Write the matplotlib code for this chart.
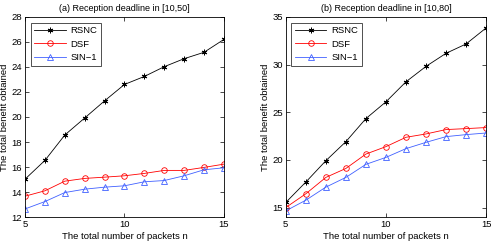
import matplotlib
matplotlib.use("Agg")
import matplotlib.pyplot as plt

n = [5, 6, 7, 8, 9, 10, 11, 12, 13, 14, 15]

# (a) deadline in [10,50]
rsnc_a = [15.03, 16.53, 18.56, 19.92, 21.29, 22.6, 23.24, 24.02, 24.66, 25.17, 26.2]
dsf_a = [13.67, 14.10, 14.87, 15.09, 15.19, 15.30, 15.49, 15.73, 15.73, 15.97, 16.23]
sin_a = [12.65, 13.24, 13.96, 14.23, 14.39, 14.50, 14.82, 14.92, 15.30, 15.78, 15.94]

# (b) deadline in [10,80]
rsnc_b = [15.53, 17.67, 19.91, 21.91, 24.33, 26.09, 28.19, 29.81, 31.18, 32.16, 33.84]
dsf_b = [15.0, 16.44, 18.16, 19.1, 20.61, 21.39, 22.37, 22.72, 23.18, 23.28, 23.39]
sin_b = [14.65, 15.77, 17.14, 18.16, 19.53, 20.26, 21.18, 21.84, 22.44, 22.65, 22.82]

plt.rcParams["font.family"] = ["Liberation Sans", "DejaVu Sans"]
plt.rcParams["font.size"] = 6.5

fig = plt.figure(figsize=(4.91, 2.45), dpi=100)
ax1 = fig.add_axes([0.051, 0.114, 0.405, 0.817])
ax2 = fig.add_axes([0.582, 0.114, 0.408, 0.817])


def draw(ax, r, d, s, title, ylim, yticks):
    ax.plot(n, r, color="black", marker=(6, 2, 0), markersize=4, mew=0.7, lw=0.6, label="RSNC")
    ax.plot(n, d, color="red", marker="o", markersize=4, mfc="none", mew=0.6, lw=0.6, label="DSF")
    ax.plot(n, s, color="#4060ff", marker="^", markersize=4, mfc="none", mew=0.6, lw=0.6, label="SIN\u22121")
    ax.set_xlim(5, 15)
    ax.set_ylim(*ylim)
    ax.set_xticks([5, 10, 15])
    ax.set_yticks(yticks)
    ax.tick_params(direction="in", top=True, right=True, length=3, width=0.5, pad=2, labelsize=6.8)
    for sp in ax.spines.values():
        sp.set_linewidth(0.6)
    ax.set_title(title, fontsize=6.5, pad=4)
    ax.set_xlabel("The total number of packets n", fontsize=6.8, labelpad=2)
    ax.set_ylabel("The total benefit obtained", fontsize=6.8, labelpad=2)
    leg = ax.legend(loc="upper left", fontsize=6.8, fancybox=False, edgecolor="black",
                    borderpad=0.4, handlelength=3.3, handletextpad=0.5, labelspacing=0.45,
                    borderaxespad=0.6)
    leg.get_frame().set_linewidth(0.6)


draw(ax1, rsnc_a, dsf_a, sin_a, "(a) Reception deadline in [10,50]", (12, 28), range(12, 29, 2))
draw(ax2, rsnc_b, dsf_b, sin_b, "(b) Reception deadline in [10,80]", (14, 35), [15, 20, 25, 30, 35])

fig.savefig("out.png", dpi=100)
